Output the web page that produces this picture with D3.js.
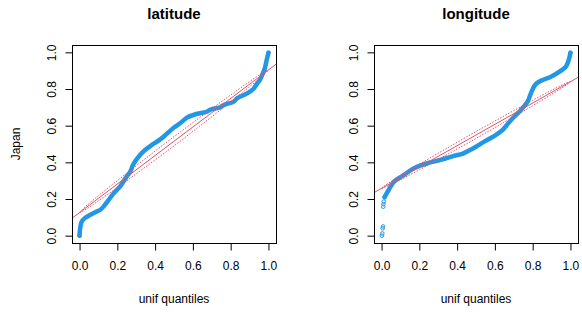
<!DOCTYPE html>
<meta charset="utf-8">
<style>
  body{margin:0;background:#fff;}
  text{font-family:"Liberation Sans",Arial,sans-serif;fill:#000;}
</style>
<svg id="chart" width="582" height="314"></svg>
<script src="https://d3js.org/d3.v7.min.js"></script>
<script>

// x = uniform quantile, y = sample quantile
var latX = [0.000,0.002,0.011,0.029,0.055,0.083,0.108,0.128,0.152,0.178,0.214,0.249,0.268,0.284,0.320,0.350,0.383,0.427,0.461,0.500,0.532,0.570,0.602,0.623,0.673,0.694,0.743,0.764,0.814,0.835,0.885,0.920,0.941,0.955,0.967,0.981,0.990,0.997,1.000];
var latY = [0.000,0.030,0.076,0.097,0.113,0.128,0.140,0.160,0.192,0.228,0.267,0.322,0.348,0.388,0.440,0.470,0.495,0.525,0.555,0.590,0.613,0.645,0.658,0.665,0.676,0.688,0.700,0.713,0.730,0.750,0.775,0.800,0.831,0.850,0.877,0.913,0.955,0.985,0.998];

var lonX = [0.016,0.039,0.066,0.119,0.172,0.242,0.313,0.383,0.430,0.473,0.500,0.544,0.606,0.641,0.660,0.694,0.738,0.773,0.790,0.808,0.826,0.860,0.897,0.950,0.976,0.990,1.000];
var lonY = [0.210,0.252,0.295,0.331,0.368,0.395,0.413,0.435,0.448,0.470,0.485,0.513,0.550,0.577,0.600,0.640,0.686,0.731,0.775,0.815,0.835,0.852,0.867,0.900,0.922,0.955,0.998];
// separate low points of longitude
var lonOutX = [0.002,0.004,0.006,0.008,0.009,0.010,0.012];
var lonOutY = [0.000,0.012,0.040,0.050,0.158,0.172,0.186];

// reference line (intercept, slope)
var latLine = [0.126, 0.778];
var lonLine = [0.258, 0.582];

// envelope half width at these quantiles
var envP = [0.0,0.02,0.05,0.1,0.2,0.3,0.4,0.5,0.6,0.7,0.8,0.9,0.95,0.98,1.0];
var latEnv = [0.000,0.006,0.010,0.014,0.019,0.022,0.024,0.025,0.024,0.022,0.019,0.014,0.010,0.006,0.000];
var lonEnv = [0.000,0.005,0.008,0.011,0.015,0.017,0.018,0.019,0.018,0.017,0.015,0.011,0.008,0.005,0.000];

var ticks = [0.0,0.2,0.4,0.6,0.8,1.0];

var svg = d3.select("#chart");
var blue = "#2297E6", red = "#DF536B";

function panel(left, title, xs, ys, ox, oy, line, env, ylab){
  var x = d3.scaleLinear().domain([-0.04,1.04]).range([left, left+204]);
  var y = d3.scaleLinear().domain([-0.04,1.04]).range([243, 45]);
  var g = svg.append("g");

  var clip = "clip" + Math.round(left);
  svg.append("clipPath").attr("id", clip).append("rect")
    .attr("x", left).attr("y", 45).attr("width", 204).attr("height", 198);

  var pl = g.append("g").attr("clip-path", "url(#" + clip + ")");

  // sample quantiles
  var pts = xs.map(function(d,i){ return [d, ys[i]]; });
  pl.append("path")
    .datum(pts)
    .attr("fill","none")
    .attr("stroke", blue)
    .attr("stroke-width", 4.5)
    .attr("stroke-linecap","round")
    .attr("stroke-linejoin","round")
    .attr("d", d3.line().curve(d3.curveCatmullRom).x(function(d){return x(d[0]);}).y(function(d){return y(d[1]);}));

  var singles = [pts[0], pts[pts.length-1]];
  ox.forEach(function(d,i){ singles.push([d, oy[i]]); });
  pl.selectAll("circle.pt").data(singles).enter().append("circle")
    .attr("cx", function(d){return x(d[0]);})
    .attr("cy", function(d){return y(d[1]);})
    .attr("r", 1.8)
    .attr("fill","none")
    .attr("stroke", blue)
    .attr("stroke-width", 1);

  // fitted line
  pl.append("line")
    .attr("x1", x(-0.04)).attr("y1", y(line[0] - 0.04*line[1]))
    .attr("x2", x(1.04)).attr("y2", y(line[0] + 1.04*line[1]))
    .attr("stroke", red).attr("stroke-width", 1);

  [1,-1].forEach(function(s){
    pl.append("path")
      .datum(envP)
      .attr("fill","none")
      .attr("stroke", red)
      .attr("stroke-width", 1)
      .attr("stroke-dasharray","1.5,1.5")
      .attr("d", d3.line().curve(d3.curveMonotoneX)
        .x(function(d){ return x(d); })
        .y(function(d,i){ return y(line[0] + line[1]*d + s*env[i]); }));
  });

  // box
  g.append("rect")
    .attr("x", left+0.5).attr("y", 45.5).attr("width", 204).attr("height", 198)
    .attr("fill","none").attr("stroke","#000").attr("stroke-width",1);

  var fmt = d3.format(".1f");
  var xa = g.append("g").attr("transform","translate(0,243.5)")
    .call(d3.axisBottom(x).tickValues(ticks).tickFormat(fmt).tickSize(7).tickPadding(11).tickSizeOuter(0));
  xa.select(".domain").remove();
  xa.selectAll("text").attr("font-size", 12).attr("font-family", null).attr("fill","#000");
  xa.selectAll("line").attr("stroke","#000");

  var ya = g.append("g").attr("transform","translate(" + (left+0.5) + ",0)")
    .call(d3.axisLeft(y).tickValues(ticks).tickFormat(fmt).tickSize(7).tickSizeOuter(0));
  ya.select(".domain").remove();
  ya.selectAll("line").attr("stroke","#000");
  ya.selectAll("text")
    .attr("font-size", 12).attr("font-family", null).attr("fill","#000")
    .attr("transform","rotate(-90)")
    .attr("x", 0).attr("y", -17).attr("dy", 0)
    .attr("text-anchor","middle");

  svg.append("text")
    .attr("x", left+102).attr("y", 18.5)
    .attr("text-anchor","middle")
    .attr("font-size", 15).attr("font-weight","bold")
    .text(title);

  svg.append("text")
    .attr("x", left+102).attr("y", 303)
    .attr("text-anchor","middle")
    .attr("font-size", 12)
    .text("unif quantiles");

  if (ylab) {
    svg.append("text")
      .attr("transform","translate(20,144) rotate(-90)")
      .attr("text-anchor","middle")
      .attr("font-size", 12)
      .text(ylab);
  }
}

panel(72, "latitude", latX, latY, [], [], latLine, latEnv, "Japan");
panel(374, "longitude", lonX, lonY, lonOutX, lonOutY, lonLine, lonEnv, null);

</script>
